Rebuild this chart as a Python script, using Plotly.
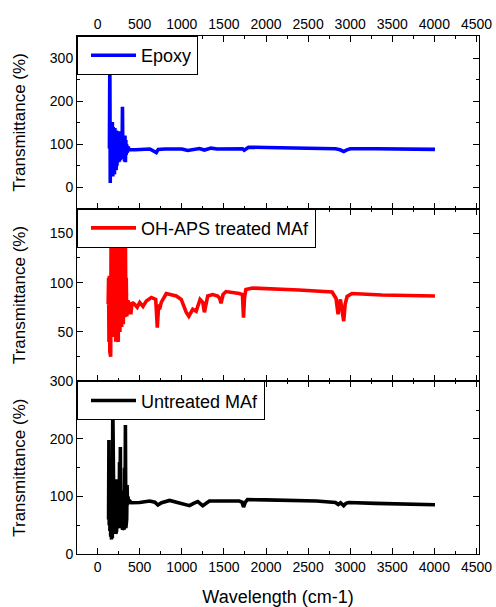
import plotly.graph_objects as go
from plotly.subplots import make_subplots

# ---------------- data ----------------
epoxy_x = [140, 145, 150, 155, 160, 165, 170, 175, 180, 185, 190, 195, 200, 205, 210, 215, 220, 225,
           230, 235, 240, 245, 250, 255, 260, 265, 270, 275, 280, 285, 290, 295, 300, 305, 310, 315,
           320, 325, 330, 335, 340, 345, 350, 360, 370, 380, 400,
           450, 539, 620, 697, 720, 800, 934, 1000, 1071, 1140, 1209, 1268, 1347, 1420, 1486, 1564,
           1650, 1721, 1741, 1762, 1792, 2000, 2352, 2600, 2825, 2880, 2923, 2960, 3002, 3300, 3600, 4007]
epoxy_y = [90, 292, 10, 150, 15, 145, 30, 152, 25, 140, 40, 135, 30, 138, 45, 130, 40, 132,
           50, 128, 55, 125, 58, 130, 60, 120, 65, 115, 70, 110, 72, 187, 68, 118, 70, 105,
           60, 120, 58, 110, 75, 100, 80, 95, 85, 88, 87,
           87, 88, 89, 80.5, 88, 89, 90, 89, 85.5, 88, 90, 86.5, 91, 89, 89, 90,
           89.5, 89.5, 86, 90, 93, 92.5, 91.5, 91, 89.5, 87, 83, 87, 89.5, 89.5, 89, 88]

treated_x = [125, 130, 135, 140, 145, 150, 155, 160, 165, 170, 175, 180, 185, 190, 195, 200, 205, 210,
             215, 220, 225, 230, 235, 240, 245, 250, 255, 260, 265, 270, 275, 280, 285, 290, 295, 300,
             305, 310, 315, 320, 325, 330, 335, 340, 345, 350, 355, 360, 370, 385, 394, 410, 440,
             470, 500, 539, 579, 638, 690, 709, 725, 736, 756, 815, 934, 993, 1052, 1083, 1130, 1170,
             1217, 1249, 1268, 1290, 1308, 1367, 1426, 1450, 1466, 1490, 1525, 1682, 1720, 1733, 1745,
             1761, 1840, 2391, 2628, 2785, 2832, 2856, 2870, 2884, 2923, 2940, 2963, 3021, 3376, 4007]
treated_y = [78, 105, 40, 107, 30, 107, 25, 150, 60, 165, 45, 160, 60, 165, 50, 170, 75, 160,
             40, 165, 55, 160, 45, 150, 40, 155, 60, 160, 50, 150, 70, 160, 55, 145, 65, 150,
             58, 148, 70, 148, 65, 145, 75, 105, 66, 105, 70, 82, 80, 75, 68, 80, 78,
             75, 80, 76, 81.5, 85, 83, 54.5, 78, 73, 80, 89, 86.5, 83, 70, 66, 73, 71,
             83, 80, 70, 80, 86.5, 88, 86.5, 84, 79, 88, 91, 89, 88, 64.6, 85,
             93, 94.5, 92.6, 91.5, 90.5, 84, 68, 78, 83, 61, 78, 86, 89, 87.5, 86.5]

untreated_x = [130, 134, 138, 142, 146, 150, 155, 160, 165, 170, 175, 180, 185, 190, 195, 200, 205,
               210, 215, 220, 225, 230, 235, 240, 245, 250, 255, 260, 265, 270, 275, 280, 285, 290,
               295, 300, 305, 310, 315, 320, 325, 330, 335, 340, 345, 350, 355, 360, 370, 382,
               400, 500, 618, 680, 716, 760, 855, 973, 1040, 1091, 1140, 1189, 1249, 1290, 1327,
               1500, 1682, 1715, 1733, 1755, 1780, 2000, 2352, 2600, 2825, 2858, 2885, 2923, 2950,
               2982, 3300, 3700, 4007]
untreated_y = [60, 198, 50, 120, 40, 100, 30, 80, 25, 150, 28, 265, 40, 265, 35, 120, 45,
               130, 35, 129, 40, 110, 45, 100, 50, 130, 45, 160, 50, 186, 45, 185, 50, 110,
               42, 100, 45, 90, 42, 150, 45, 224, 45, 222, 60, 120, 85, 100, 88, 92,
               89, 89.5, 92, 90, 85, 89, 93, 89, 87, 84, 88, 91, 84, 89, 92,
               92, 92, 90, 81.5, 90, 94.5, 94, 93, 92, 89.5, 86, 89, 84, 88,
               89.5, 88, 87, 85.5]

x_ticks = [0, 500, 1000, 1500, 2000, 2500, 3000, 3500, 4000, 4500]
names = ["Epoxy", "OH-APS treated MAf", "Untreated MAf"]
colors = ["#0000FF", "#FF0000", "#000000"]

# ---------------- figure ----------------
fig = make_subplots(rows=3, cols=1, vertical_spacing=0)

series = [(epoxy_x, epoxy_y), (treated_x, treated_y), (untreated_x, untreated_y)]
legends = ["legend", "legend2", "legend3"]
for i, ((xs, ys), nm, col, lg) in enumerate(zip(series, names, colors, legends)):
    fig.add_trace(go.Scatter(x=xs, y=ys, mode="lines", name=nm, showlegend=True,
                             line=dict(color=col, width=3.6), legend=lg),
                  row=i + 1, col=1)

font_family = "Liberation Sans, Arial, sans-serif"
axis_common = dict(showline=True, linecolor="black", linewidth=1, mirror="ticks",
                   ticks="inside", ticklen=6, tickwidth=1, tickcolor="black",
                   showgrid=False, zeroline=False, automargin=False,
                   tickfont=dict(family=font_family, size=14, color="black"))

for r in range(1, 4):
    fig.update_xaxes(range=[-245, 4530], tickvals=x_ticks,
                     minor=dict(ticks="inside", dtick=250, tick0=0, ticklen=3, tickcolor="black"),
                     row=r, col=1, **axis_common)

fig.update_xaxes(side="top", showticklabels=True, row=1, col=1)
fig.update_xaxes(showticklabels=False, row=2, col=1)
fig.update_xaxes(showticklabels=True,
                 title=dict(text="Wavelength (cm-1)", font=dict(family=font_family, size=18, color="black"),
                            standoff=16),
                 row=3, col=1)

ytitle = dict(text="Transmittance (%)", font=dict(family=font_family, size=17, color="black"), standoff=19)
fig.update_yaxes(range=[-50, 352], tickvals=[0, 100, 200, 300],
                 minor=dict(ticks="inside", dtick=50, tick0=0, ticklen=3, tickcolor="black"),
                 title=ytitle, row=1, col=1, **axis_common)
fig.update_yaxes(range=[0, 175], tickvals=[50, 100, 150],
                 minor=dict(ticks="inside", dtick=25, tick0=0, ticklen=3, tickcolor="black"),
                 title=ytitle, row=2, col=1, **axis_common)
fig.update_yaxes(range=[0, 300], tickvals=[0, 100, 200, 300],
                 minor=dict(ticks="inside", dtick=50, tick0=0, ticklen=3, tickcolor="black"),
                 title=ytitle, row=3, col=1, **axis_common)

d1 = fig.layout.yaxis.domain
d2 = fig.layout.yaxis2.domain
d3 = fig.layout.yaxis3.domain
leg_common = dict(x=0, xanchor="left", yanchor="top", bgcolor="white",
                  bordercolor="black", borderwidth=1, itemwidth=45, indentation=8,
                  font=dict(family=font_family, size=18, color="black"),
                  tracegroupgap=0, visible=True)
fig.update_layout(
    width=496, height=607,
    margin=dict(l=77, r=17, t=36, b=53),
    plot_bgcolor="white", paper_bgcolor="white",
    showlegend=True,
    legend=dict(y=d1[1], **leg_common),
    legend2=dict(y=d2[1], **leg_common),
    legend3=dict(y=d3[1], **leg_common),
)

fig.write_html("out.html")
